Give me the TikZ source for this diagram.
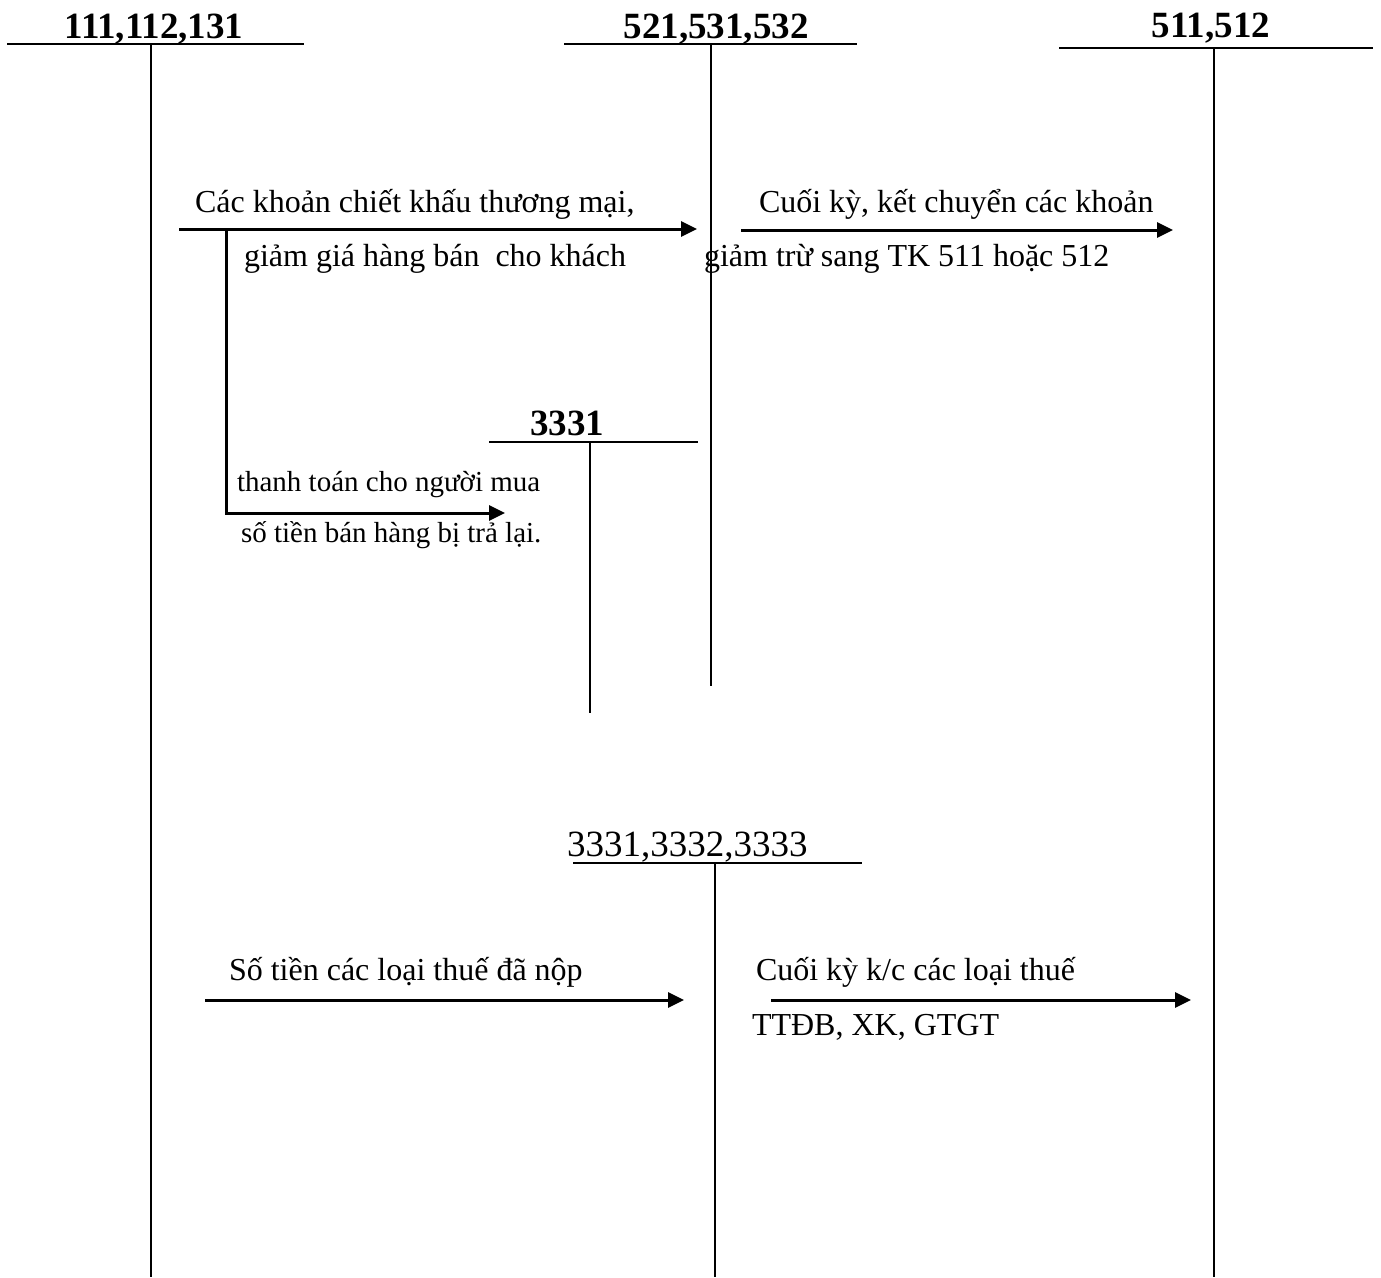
\documentclass[tikz,border=0pt]{standalone}
\usepackage{fontspec}
\setmainfont{Liberation Serif}
\usetikzlibrary{arrows.meta}
\begin{document}
\begin{tikzpicture}[x=1pt,y=-1pt,line width=2pt,
  acct/.style={font=\fontsize{37}{42}\selectfont\bfseries,anchor=base,inner sep=0pt},
  acctplain/.style={font=\fontsize{37}{42}\selectfont,anchor=base west,inner sep=0pt},
  lbl/.style={font=\fontsize{32}{38}\selectfont,anchor=base west,inner sep=0pt},
  smalllbl/.style={font=\fontsize{29}{34}\selectfont,anchor=base west,inner sep=0pt},
  flow/.style={line width=3pt,-{Triangle[length=16pt,width=15pt]}}]
\useasboundingbox (0,0) rectangle (1381,1277);

% ---- T-account 111,112,131
\node[acct] (n111) at (154,38) {111,112,131};
\coordinate (a1L) at (7,44);
\coordinate (a1R) at (304,44);
\coordinate (a1T) at (151,44);
\coordinate (a1B) at (151,1277);
\draw (a1L) -- (a1R);
\draw (a1T) -- (a1B);

% ---- T-account 521,531,532
\node[acct] (n521) at (716,38) {521,531,532};
\coordinate (a2L) at (564,44);
\coordinate (a2R) at (857,44);
\coordinate (a2T) at (711,44);
\coordinate (a2B) at (711,686);
\draw (a2L) -- (a2R);
\draw (a2T) -- (a2B);

% ---- T-account 511,512
\node[acct] (n511) at (1211,37) {511,512};
\coordinate (a3L) at (1059,48);
\coordinate (a3R) at (1373,48);
\coordinate (a3T) at (1214,48);
\coordinate (a3B) at (1214,1277);
\draw (a3L) -- (a3R);
\draw (a3T) -- (a3B);

% ---- T-account 3331
\node[acct] (n3331) at (567,435) {3331};
\coordinate (a4L) at (489,442);
\coordinate (a4R) at (698,442);
\coordinate (a4T) at (590,442);
\coordinate (a4B) at (590,713);
\draw (a4L) -- (a4R);
\draw (a4T) -- (a4B);

% ---- T-account 3331,3332,3333
\node[acctplain] (n3333) at (566,856) {3331,3332,3333};
\coordinate (a5L) at (573,863);
\coordinate (a5R) at (862,863);
\coordinate (a5T) at (715,863);
\coordinate (a5B) at (715,1277);
\draw (a5L) -- (a5R);
\draw (a5T) -- (a5B);

% ---- discounts and allowances
\coordinate (f1s) at (179,229);
\coordinate (f1e) at (697,229);
\draw[flow] (f1s) -- (f1e);
\node[lbl] (t1a) at (194,212) {Các khoản chiết khấu thương mại,};
\node[lbl] (t1b) at (243,266) {giảm giá hàng bán~ cho khách};

% ---- year-end transfer of deductions
\coordinate (f2s) at (741,230);
\coordinate (f2e) at (1173,230);
\draw[flow] (f2s) -- (f2e);
\node[lbl] (t2a) at (758,212) {Cuối kỳ, kết chuyển các khoản};
\node[lbl] (t2b) at (703,266) {giảm trừ sang TK 511 hoặc 512};

% ---- refunds for returned goods
\coordinate (f3s) at (226,229);
\coordinate (f3c) at (226,513);
\coordinate (f3e) at (505,513);
\draw[flow] (f3s) -- (f3c) -- (f3e);
\node[smalllbl] (t3a) at (236,491) {thanh toán cho người mua};
\node[smalllbl] (t3b) at (240,542) {số tiền bán hàng bị trả lại.};

% ---- taxes paid
\coordinate (f4s) at (205,1000);
\coordinate (f4e) at (684,1000);
\draw[flow] (f4s) -- (f4e);
\node[lbl] (t4a) at (228,980) {Số tiền các loại thuế đã nộp};

% ---- year-end transfer of taxes
\coordinate (f5s) at (771,1000);
\coordinate (f5e) at (1191,1000);
\draw[flow] (f5s) -- (f5e);
\node[lbl] (t5a) at (755,980) {Cuối kỳ k/c các loại thuế};
\node[lbl] (t5b) at (751,1035) {TTĐB, XK, GTGT};
\end{tikzpicture}
\end{document}
